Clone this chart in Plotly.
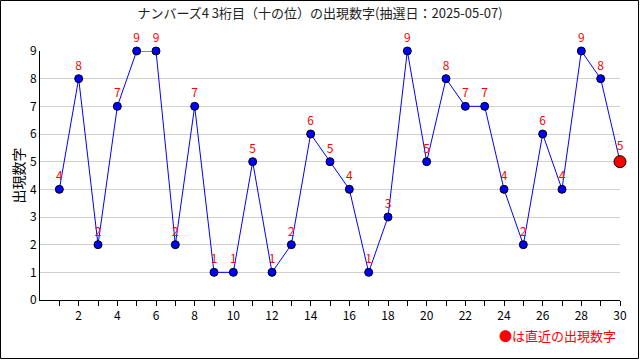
import plotly.graph_objects as go

draws = list(range(1, 31))
digits = [4, 8, 2, 7, 9, 9, 2, 7, 1, 1, 5, 1, 2, 6, 5, 4, 1, 3, 9, 5, 8, 7, 7, 4, 2, 6, 4, 9, 8, 5]
title = "ナンバーズ4 3桁目（十の位）の出現数字(抽選日：2025-05-07)"
y_title = "出現数字"
note = "●は直近の出現数字"
xtick_vals = list(range(1, 31))
xtick_text = [str(v) if v % 2 == 0 else "" for v in xtick_vals]

FONT = "Noto Sans CJK JP, DejaVu Sans, sans-serif"

fig = go.Figure()
fig.add_trace(go.Scatter(
    x=draws, y=digits, mode="lines+markers+text",
    line=dict(color="#0000ff", width=1),
    marker=dict(color="#0000ff", size=8, line=dict(color="black", width=1)),
    text=[str(d) for d in digits[:-1]] + [""],
    textposition="top center",
    textfont=dict(color="#ff0000", size=12, family=FONT),
    cliponaxis=False, showlegend=False, hoverinfo="skip",
))
fig.add_trace(go.Scatter(
    x=draws[-1:], y=digits[-1:], mode="markers+text",
    marker=dict(color="#ff0000", size=12, line=dict(color="black", width=1)),
    text=[str(digits[-1])], textposition="top center",
    textfont=dict(color="#ff0000", size=12, family=FONT),
    cliponaxis=False, showlegend=False, hoverinfo="skip",
))

W, H = 640, 360
L, R, T, B = 40, 20, 51, 60
pw, ph = W - L - R, H - T - B

fig.update_layout(
    width=W, height=H,
    margin=dict(l=L, r=R, t=T, b=B, autoexpand=False),
    paper_bgcolor="white", plot_bgcolor="white",
    font=dict(family=FONT, size=12, color="black"),
    title=dict(text=title, x=0.5, xanchor="center", y=1 - 13 / H, yanchor="middle",
               font=dict(size=13, family=FONT, color="#222")),
    xaxis=dict(range=[0, 30], tickvals=xtick_vals, ticktext=xtick_text, automargin=False,
               ticks="outside", ticklen=5, tickcolor="black", showgrid=False,
               showline=True, linecolor="black", linewidth=1, zeroline=False,
               tickfont=dict(size=12)),
    yaxis=dict(range=[0, 9], dtick=1, showgrid=True, gridcolor="#d0d0d0", gridwidth=1,
               showline=True, linecolor="black", linewidth=1, zeroline=False, automargin=False,
               ticks="", tickfont=dict(size=12),
               title=dict(text=y_title, font=dict(size=14), standoff=2)),
    shapes=[dict(type="rect", xref="paper", yref="paper",
                 x0=-(L - 0.5) / pw, x1=1 + (R - 1.5) / pw,
                 y0=-(B - 1.5) / ph, y1=1 + (T - 0.5) / ph,
                 line=dict(color="black", width=1), fillcolor="rgba(0,0,0,0)")],
    annotations=[dict(text=note, xref="paper", yref="paper",
                      x=1 + (R - 22) / pw, y=-(335 - 300) / ph,
                      xanchor="right", yanchor="middle", showarrow=False,
                      font=dict(color="#ff0000", size=13, family=FONT))],
)

fig.write_html("out.html", config={"displayModeBar": False},
               post_script="document.body.style.margin='0';")
